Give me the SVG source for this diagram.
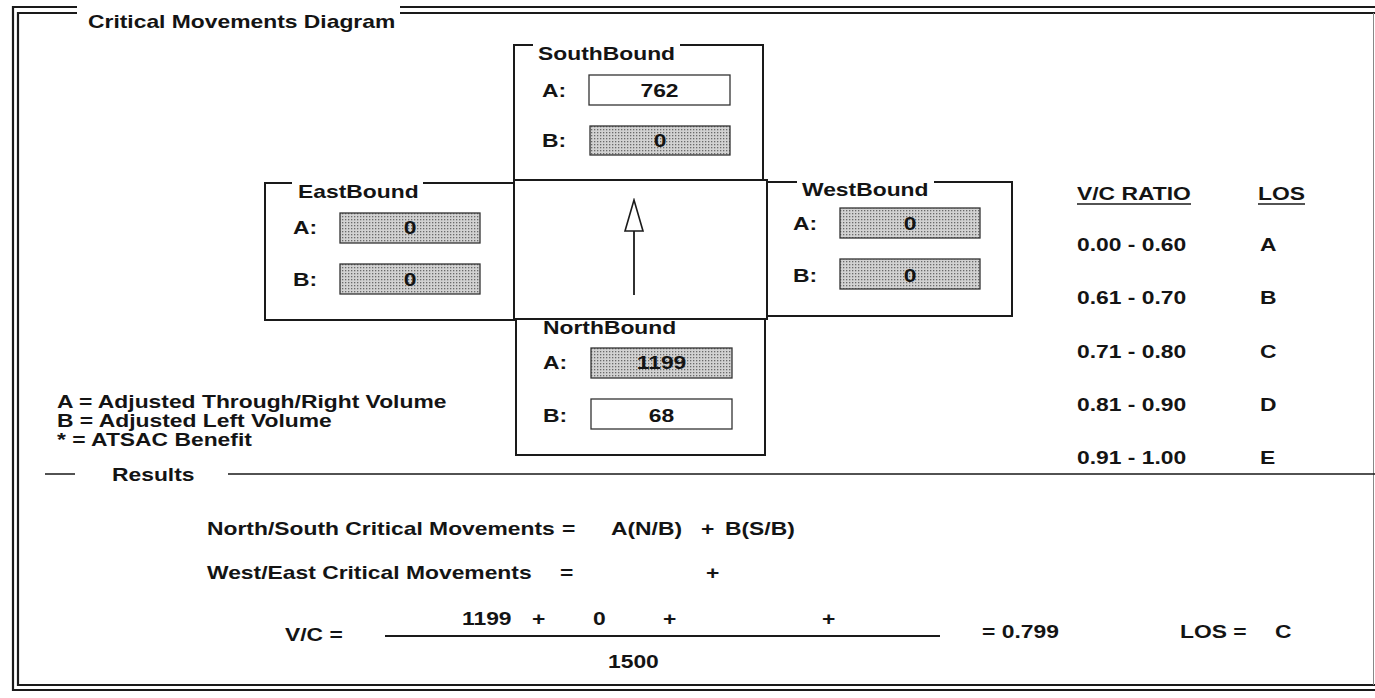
<svg xmlns="http://www.w3.org/2000/svg" width="1375" height="698" viewBox="0 0 1375 698">
<style>
.t{font-family:"Liberation Sans",Arial,Helvetica,sans-serif;font-weight:bold;font-size:18px;fill:#141414}
.m{text-anchor:middle}
.frame{fill:none;stroke:#1a1a1a;stroke-width:2.2}
.gb{fill:none;stroke:#1a1a1a;stroke-width:2}
.fw{fill:#fff;stroke:#333;stroke-width:1.3}
.fg{fill:url(#stip);stroke:#333;stroke-width:1.3}
.ln{fill:none;stroke:#1a1a1a;stroke-width:1.6}
</style>
<defs>
<pattern id="stip" width="3" height="3" patternUnits="userSpaceOnUse">
<rect width="3" height="3" fill="#d2d2d2"/>
<rect width="1.3" height="1.3" fill="#6a6a6a"/>
</pattern>
<marker id="openHead" viewBox="-2 -11 35 22" markerWidth="35" markerHeight="22" refX="0" refY="0" orient="auto" markerUnits="userSpaceOnUse">
<path d="M0,-9 L31,0 L0,9 Z" fill="#fff" stroke="#1a1a1a" stroke-width="1.6"/>
</marker>
</defs>
<rect width="1375" height="698" fill="#fff"/>

<g id="frame">
<path class="frame" d="M77,7 H13 V690 H1375"/>
<path class="frame" d="M77,13 H18 V685 H1375"/>
<path class="frame" d="M400,7 H1375 M400,13 H1375"/>
<path d="M1373.5,13 V685" stroke="#888" stroke-width="1" fill="none"/>
<text class="t" transform="matrix(1.27 0 0 1 88 28)">Critical Movements Diagram</text>
</g>

<g id="southbound">
<path class="gb" d="M533,45 H514 V180 H763 V45 H680"/>
<text class="t" transform="matrix(1.27 0 0 1 538 60)">SouthBound</text>
<text class="t" transform="matrix(1.27 0 0 1 542 97)">A:</text>
<rect class="fw" x="589" y="75" width="141" height="30"/>
<text class="t m" transform="matrix(1.27 0 0 1 659.5 97)">762</text>
<text class="t" transform="matrix(1.27 0 0 1 542 147)">B:</text>
<rect class="fg" x="590" y="126" width="140" height="29"/>
<text class="t m" transform="matrix(1.27 0 0 1 660 147)">0</text>
</g>

<g id="center">
<rect class="gb" x="514" y="180" width="253" height="139"/>
</g>

<g id="eastbound">
<path class="gb" d="M292,183 H265 V320 H514 V183 H423"/>
<text class="t" transform="matrix(1.27 0 0 1 298 198)">EastBound</text>
<text class="t" transform="matrix(1.27 0 0 1 293 234)">A:</text>
<rect class="fg" x="340" y="213" width="140" height="30"/>
<text class="t m" transform="matrix(1.27 0 0 1 410 234)">0</text>
<text class="t" transform="matrix(1.27 0 0 1 293 286)">B:</text>
<rect class="fg" x="340" y="264" width="140" height="30"/>
<text class="t m" transform="matrix(1.27 0 0 1 410 286)">0</text>
</g>

<g id="westbound">
<path class="gb" d="M797,182 H767 V316 H1012 V182 H934"/>
<text class="t" transform="matrix(1.27 0 0 1 802 196)">WestBound</text>
<text class="t" transform="matrix(1.27 0 0 1 793 230)">A:</text>
<rect class="fg" x="840" y="208" width="140" height="30"/>
<text class="t m" transform="matrix(1.27 0 0 1 910 230)">0</text>
<text class="t" transform="matrix(1.27 0 0 1 793 282)">B:</text>
<rect class="fg" x="840" y="259" width="140" height="30"/>
<text class="t m" transform="matrix(1.27 0 0 1 910 282)">0</text>
</g>

<g id="northbound">
<path class="gb" d="M537,319 H516 V455 H765 V319 H682"/>
<text class="t" transform="matrix(1.27 0 0 1 543 334)">NorthBound</text>
<text class="t" transform="matrix(1.27 0 0 1 543 369)">A:</text>
<rect class="fg" x="591" y="348" width="141" height="30"/>
<text class="t m" transform="matrix(1.27 0 0 1 661.5 369)">1199</text>
<text class="t" transform="matrix(1.27 0 0 1 543 422)">B:</text>
<rect class="fw" x="591" y="399" width="141" height="30"/>
<text class="t m" transform="matrix(1.27 0 0 1 661.5 422)">68</text>
</g>

<g id="connectors">
<line x1="634" y1="295" x2="634" y2="231" stroke="#1a1a1a" stroke-width="1.8" marker-end="url(#openHead)"/>
</g>

<g id="legend">
<text class="t" transform="matrix(1.27 0 0 1 57 408)">A = Adjusted Through/Right Volume</text>
<text class="t" transform="matrix(1.27 0 0 1 57 427)">B = Adjusted Left Volume</text>
<text class="t" transform="matrix(1.27 0 0 1 57 446)">* = ATSAC Benefit</text>
</g>

<g id="vc-table">
<text class="t" transform="matrix(1.27 0 0 1 1077 200)">V/C RATIO</text>
<line class="ln" x1="1077" y1="204" x2="1191" y2="204"/>
<text class="t" transform="matrix(1.27 0 0 1 1258 200)">LOS</text>
<line class="ln" x1="1258" y1="204" x2="1305" y2="204"/>
<text class="t" transform="matrix(1.27 0 0 1 1077 251)">0.00 - 0.60</text>
<text class="t" transform="matrix(1.27 0 0 1 1260 251)">A</text>
<text class="t" transform="matrix(1.27 0 0 1 1077 304)">0.61 - 0.70</text>
<text class="t" transform="matrix(1.27 0 0 1 1260 304)">B</text>
<text class="t" transform="matrix(1.27 0 0 1 1077 358)">0.71 - 0.80</text>
<text class="t" transform="matrix(1.27 0 0 1 1260 358)">C</text>
<text class="t" transform="matrix(1.27 0 0 1 1077 411)">0.81 - 0.90</text>
<text class="t" transform="matrix(1.27 0 0 1 1260 411)">D</text>
<text class="t" transform="matrix(1.27 0 0 1 1077 464)">0.91 - 1.00</text>
<text class="t" transform="matrix(1.27 0 0 1 1260 464)">E</text>
</g>

<g id="results">
<path class="ln" d="M45,474 H75 M228,474 H1375"/>
<text class="t" transform="matrix(1.27 0 0 1 112 481)">Results</text>
<text class="t" transform="matrix(1.27 0 0 1 207 535)">North/South Critical Movements</text>
<text class="t" transform="matrix(1.27 0 0 1 562 535)">=</text>
<text class="t" transform="matrix(1.27 0 0 1 611 535)">A(N/B)</text>
<text class="t" transform="matrix(1.27 0 0 1 701 535)">+</text>
<text class="t" transform="matrix(1.27 0 0 1 725 535)">B(S/B)</text>
<text class="t" transform="matrix(1.27 0 0 1 207 579)">West/East Critical Movements</text>
<text class="t" transform="matrix(1.27 0 0 1 560 579)">=</text>
<text class="t" transform="matrix(1.27 0 0 1 706 579)">+</text>
<text class="t" transform="matrix(1.27 0 0 1 462 625)">1199</text>
<text class="t" transform="matrix(1.27 0 0 1 532 625)">+</text>
<text class="t" transform="matrix(1.27 0 0 1 593 625)">0</text>
<text class="t" transform="matrix(1.27 0 0 1 663 625)">+</text>
<text class="t" transform="matrix(1.27 0 0 1 822 625)">+</text>
<line x1="385" y1="636" x2="940" y2="636" stroke="#1a1a1a" stroke-width="2.2"/>
<text class="t" transform="matrix(1.27 0 0 1 285 641)">V/C =</text>
<text class="t" transform="matrix(1.27 0 0 1 608 668)">1500</text>
<text class="t" transform="matrix(1.27 0 0 1 982 638)">= 0.799</text>
<text class="t" transform="matrix(1.27 0 0 1 1180 638)">LOS =</text>
<text class="t" transform="matrix(1.27 0 0 1 1275 638)">C</text>
</g>
</svg>
